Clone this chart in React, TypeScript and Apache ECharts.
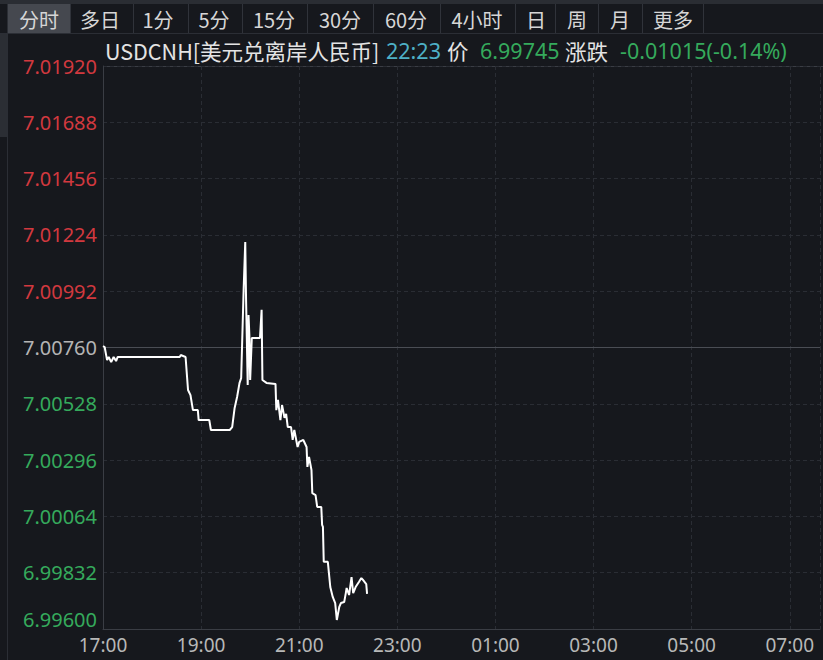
import React, { useEffect, useRef } from "react";
import * as echarts from "echarts";

// minutes elapsed since 17:00
const minutesFrom1700 = [
  0, 2, 5, 7, 10, 13, 16, 18, 94, 95, 101, 104, 107, 110, 116, 117, 130, 132,
  155, 158, 161, 164, 167, 169, 172, 174, 175, 177, 178, 179, 180, 182,
  192, 194, 195, 200, 211, 212, 214, 217, 219, 222, 224, 226, 230, 232, 234, 238,
  240, 245, 249, 250, 252, 255, 256, 260, 262, 267, 268, 269, 270, 275, 278, 281,
  284, 286, 289, 291, 295, 297, 298, 301, 304, 306, 309, 313, 316, 318, 322, 323,
];
const prices = [
  7.00766, 7.00762, 7.00708, 7.00721, 7.007, 7.00721, 7.00704, 7.00721, 7.00721,
  7.00729, 7.00721, 7.00585, 7.00564, 7.00502, 7.00502, 7.00461, 7.00461, 7.0042,
  7.0042, 7.00432, 7.00511, 7.00556, 7.00614, 7.00634, 7.00997, 7.01195, 7.00956,
  7.00606, 7.00894, 7.00812, 7.00626, 7.00799, 7.00799, 7.00915,
  7.00626, 7.00614, 7.0061, 7.00502, 7.00544, 7.00461, 7.00523, 7.0047, 7.00486,
  7.00432, 7.00432, 7.00379, 7.0042, 7.0035, 7.00371, 7.00379, 7.0035, 7.00268,
  7.00309, 7.00255, 7.0016, 7.00152, 7.00103, 7.00103, 7.00029, 7.00021, 6.99877,
  6.99877, 6.99773, 6.99732, 6.99707, 6.99637, 6.99691, 6.99707, 6.99711, 6.99748,
  6.99769, 6.9974, 6.99814, 6.99748, 6.99773, 6.99794, 6.9981, 6.99802, 6.99785,
  6.99745,
];
const prevClose = 7.0076;
const yMin = 6.996;
const yMax = 7.0192;
const yStep = 0.00232;
const xStepMinutes = 120;
const xMaxMinutes = 877;
const tabs = ["分时", "多日", "1分", "5分", "15分", "30分", "60分", "4小时", "日", "周", "月", "更多"];
const symbolName = "USDCNH[美元兑离岸人民币]";
const lastTime = "22:23";
const lastPrice = "6.99745";
const change = "-0.01015(-0.14%)";

const RED = "#d2393f";
const GREEN = "#35aa5c";
const GREY_LABEL = "#b4b4b4";

const tabCenters = [39, 100, 158, 214, 274, 340, 406, 477, 536, 577, 620, 673];
const tabSeps = [70, 133, 188, 242, 307, 373, 440, 515, 555, 598, 642, 703];

function fmtTime(m: number): string {
  const total = (17 * 60 + m) % (24 * 60);
  const h = Math.floor(total / 60);
  const mm = total % 60;
  return String(h).padStart(2, "0") + ":" + String(mm).padStart(2, "0");
}

export default function App() {
  const ref = useRef<HTMLDivElement>(null);
  useEffect(() => {
    if (!ref.current) return;
    const chart = echarts.init(ref.current, undefined, { renderer: "svg" });
    const latin = "'Noto Sans', 'Noto Sans CJK SC', sans-serif";
    const cjk = "'Noto Sans CJK SC', 'Noto Sans', sans-serif";

    const graphics: any[] = [
      { type: "rect", shape: { x: 0, y: 0, width: 823, height: 4 }, style: { fill: "#2a2d33" }, silent: true },
      { type: "rect", shape: { x: 8, y: 4, width: 62, height: 29 }, style: { fill: "#45484f" }, silent: true },
      { type: "line", shape: { x1: 0, y1: 33.5, x2: 823, y2: 33.5 }, style: { stroke: "#2b2e35", lineWidth: 1 }, silent: true },
      { type: "rect", shape: { x: 0, y: 34, width: 7, height: 103 }, style: { fill: "#2b2e34" }, silent: true },
      { type: "line", shape: { x1: 7.5, y1: 4, x2: 7.5, y2: 660 }, style: { stroke: "#2b2e35", lineWidth: 1 }, silent: true },
      { type: "line", shape: { x1: 103, y1: 66.5, x2: 823, y2: 66.5 }, style: { stroke: "#3a3d44", lineWidth: 1 }, silent: true },
    ];
    tabSeps.forEach((x) => {
      graphics.push({ type: "line", shape: { x1: x + 0.5, y1: 4, x2: x + 0.5, y2: 33 }, style: { stroke: "#30333a", lineWidth: 1 }, silent: true });
    });
    tabs.forEach((t, i) => {
      graphics.push({
        type: "text",
        x: tabCenters[i],
        y: 19,
        style: { text: t, fill: "#d6d6d6", font: `20px ${cjk}`, align: "center", verticalAlign: "middle" },
        silent: true,
      });
    });
    const header = [
      { text: symbolName, x: 105, color: "#e4e4e4", font: cjk },
      { text: lastTime, x: 386, color: "#4eb0c6", font: latin },
      { text: "价", x: 447, color: "#e4e4e4", font: cjk },
      { text: lastPrice, x: 480, color: GREEN, font: latin },
      { text: "涨跌", x: 565, color: "#e4e4e4", font: cjk },
      { text: change, x: 620, color: GREEN, font: latin },
    ];
    header.forEach((h) => {
      graphics.push({
        type: "text",
        x: h.x,
        y: 50,
        style: { text: h.text, fill: h.color, font: `21.5px ${h.font}`, align: "left", verticalAlign: "middle" },
        silent: true,
      });
    });

    const labelColor = (v: any) => {
      const n = Number(v);
      if (Math.abs(n - prevClose) < 1e-7) return GREY_LABEL;
      return n > prevClose ? RED : GREEN;
    };

    chart.setOption({
      animation: false,
      backgroundColor: "#16181d",
      grid: { left: 103, right: 0, top: 66, bottom: 31, containLabel: false },
      xAxis: {
        type: "value",
        min: 0,
        max: xMaxMinutes,
        interval: xStepMinutes,
        axisLine: { show: true, lineStyle: { color: "#3a3d44", width: 1 } },
        axisTick: { show: false },
        axisLabel: {
          color: "#b8b8b8",
          fontSize: 19,
          fontFamily: latin,
          margin: 6,
          showMaxLabel: true,
          formatter: (v: number) => (Math.round(v) % xStepMinutes === 0 ? fmtTime(Math.round(v)) : ""),
        },
        splitLine: { show: true, lineStyle: { color: "#2a2d34", type: [4, 3], width: 1 } },
      },
      yAxis: {
        type: "value",
        min: yMin,
        max: yMax,
        interval: yStep,
        axisLine: { show: true, lineStyle: { color: "#3a3d44", width: 1 } },
        axisTick: { show: false },
        axisLabel: {
          fontSize: 20,
          fontFamily: latin,
          margin: 6,
          color: labelColor,
          verticalAlignMinLabel: "bottom",
          showMinLabel: true,
          showMaxLabel: true,
          formatter: (v: number) => v.toFixed(5),
        },
        splitLine: { show: true, lineStyle: { color: "#2a2d34", type: [4, 3], width: 1 } },
      },
      graphic: graphics,
      series: [
        {
          type: "line",
          data: [
            [0, prevClose],
            [xMaxMinutes, prevClose],
          ],
          showSymbol: false,
          symbol: "none",
          lineStyle: { color: "#4a4d54", width: 1 },
          silent: true,
          z: 1,
        },
        {
          type: "line",
          data: minutesFrom1700.map((m, i) => [m, prices[i]]),
          showSymbol: false,
          symbol: "none",
          lineStyle: { color: "#ffffff", width: 2 },
          silent: true,
          z: 3,
        },
      ],
    });
    return () => chart.dispose();
  }, []);
  return (
    <div
      ref={ref}
      style={{ position: "fixed", left: 0, top: 0, width: 823, height: 660 }}
    />
  );
}
